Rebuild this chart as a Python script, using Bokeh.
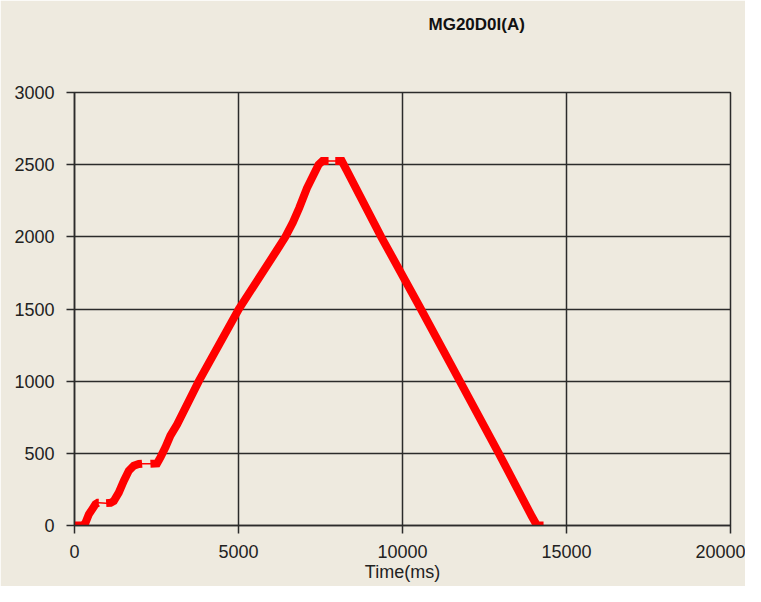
from bokeh.plotting import figure
from bokeh.models import FixedTicker, Range1d, Title
from bokeh.embed import file_html
from bokeh.resources import INLINE

# ---- data ----
title_text = "MG20D0I(A)"
x_label = "Time(ms)"
x_ticks = [0, 5000, 10000, 15000, 20000]
y_ticks = [0, 500, 1000, 1500, 2000, 2500, 3000]

# densely-sampled (marker) stretches of the current trace, time in ms
seg1_t = [0, 250, 335, 437, 538, 640, 711, 740]
seg1_a = [0, 0, 19, 77, 112, 147, 157, 157]

seg2_t = [965, 1100, 1198, 1350, 1503, 1655, 1807, 1960, 2061]
seg2_a = [155, 157, 170, 228, 309, 379, 414, 426, 428]

seg3_t = [2315, 2518, 2620, 2772, 2924, 3127, 3790, 5010, 6150, 6430, 6660, 6850, 7088, 7441, 7560, 7746]
seg3_a = [428, 430, 472, 542, 623, 700, 1000, 1500, 1900, 2000, 2100, 2200, 2338, 2500, 2525, 2525]

seg4_t = [7950, 8150, 8300, 9350, 10560, 11748, 12936, 13950, 14100, 14300]
seg4_a = [2525, 2525, 2460, 2000, 1500, 1000, 500, 60, 0, 0]

segments = [(seg1_t, seg1_a), (seg2_t, seg2_a), (seg3_t, seg3_a), (seg4_t, seg4_a)]

BG = "#EEEADF"
GRID = "#2b2b2b"
RED = "#FF0000"
FONT = "Liberation Sans"

p = figure(width=745, height=586,
           x_range=Range1d(0, 20000), y_range=Range1d(0, 3000),
           output_backend="svg", toolbar_location=None,
           min_border_left=74, min_border_right=15,
           min_border_top=92, min_border_bottom=61)

p.background_fill_color = BG
p.border_fill_color = BG
p.outline_line_color = GRID
p.outline_line_width = 1.5

p.xaxis.ticker = FixedTicker(ticks=x_ticks)
p.yaxis.ticker = FixedTicker(ticks=y_ticks)
p.xgrid.ticker = FixedTicker(ticks=x_ticks)
p.ygrid.ticker = FixedTicker(ticks=y_ticks)
for g in (p.xgrid, p.ygrid):
    g.grid_line_color = GRID
    g.grid_line_width = 1.5

for ax in (p.xaxis, p.yaxis):
    ax.axis_line_color = GRID
    ax.axis_line_width = 1.5
    ax.major_tick_line_color = GRID
    ax.major_tick_line_width = 1.5
    ax.major_tick_out = 8
    ax.major_tick_in = 0
    ax.minor_tick_line_color = None
    ax.major_label_text_font = FONT
    ax.major_label_text_font_size = "18px"
    ax.major_label_text_color = "#222222"

p.yaxis.major_label_standoff = 12
p.xaxis.major_label_standoff = 11
p.xaxis.axis_label = x_label
p.xaxis.axis_label_text_font = FONT
p.xaxis.axis_label_text_font_size = "18px"
p.xaxis.axis_label_text_font_style = "normal"
p.xaxis.axis_label_text_color = "#222222"
p.xaxis.axis_label_standoff = 1

# thin connecting line through the whole trace
all_t = [t for s in segments for t in s[0]]
all_a = [a for s in segments for a in s[1]]
p.line(all_t, all_a, line_color=RED, line_width=1.5)

# thick marker stretches
for st, sa in segments:
    p.line(st, sa, line_color=RED, line_width=8, line_join="miter", line_cap="butt")

# blank spacer panel between the frame and the title
spacer = Title(text=" ", standoff=46, text_font=FONT, text_font_size="10px")
p.add_layout(spacer, "above")
title = Title(text=title_text, align="left", offset=354, standoff=0,
              text_font=FONT, text_font_size="17px", text_font_style="bold",
              text_color="#111111")
p.add_layout(title, "above")

open("out.html", "w").write(file_html(p, INLINE))
